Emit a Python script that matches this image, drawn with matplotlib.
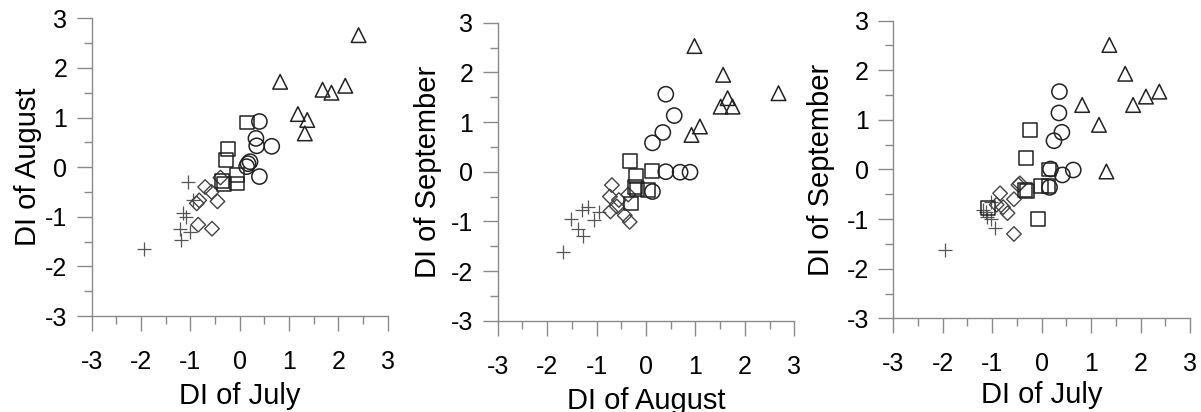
import numpy as np
import matplotlib
matplotlib.use("Agg")
import matplotlib.pyplot as plt
from matplotlib.ticker import MultipleLocator

plt.rcParams['font.family'] = ['Liberation Sans', 'DejaVu Sans']
plt.rcParams['axes.unicode_minus'] = False

# panel 1: DI of July (x) vs DI of August (y)
ja_tri_x = [2.41, 0.82, 1.68, 1.86, 2.14, 1.18, 1.37, 1.32]
ja_tri_y = [2.66, 1.72, 1.56, 1.50, 1.64, 1.07, 0.95, 0.68]
ja_cir_x = [0.40, 0.33, 0.345, 0.65, 0.21, 0.17, 0.14, 0.40]
ja_cir_y = [0.92, 0.58, 0.43, 0.42, 0.11, 0.07, 0.01, -0.19]
ja_sq_x = [0.15, -0.23, -0.28, -0.32, -0.36, -0.06, -0.05]
ja_sq_y = [0.90, 0.36, 0.15, -0.34, -0.28, -0.33, -0.15]
ja_dia_x = [-0.39, -0.70, -0.57, -0.45, -0.82, -0.87, -0.84, -0.56]
ja_dia_y = [-0.21, -0.40, -0.50, -0.69, -0.67, -0.73, -1.16, -1.24]
ja_plus_x = [-1.04, -0.94, -1.14, -1.09, -1.21, -1.01, -1.18, -1.94]
ja_plus_y = [-0.30, -0.66, -0.93, -1.01, -1.24, -1.30, -1.46, -1.64]

# panel 2: DI of August (x) vs DI of September (y)
as_tri_x = [0.98, 1.56, 2.68, 1.65, 1.51, 1.75, 1.09, 0.92]
as_tri_y = [2.53, 1.95, 1.58, 1.48, 1.31, 1.31, 0.91, 0.74]
as_cir_x = [0.40, 0.57, 0.34, 0.13, 0.40, 0.69, 0.89, 0.13]
as_cir_y = [1.56, 1.13, 0.79, 0.58, 0.00, -0.01, -0.01, -0.40]
as_sq_x = [-0.32, -0.20, 0.12, -0.22, -0.18, -0.30, 0.04]
as_sq_y = [0.22, -0.08, 0.02, -0.31, -0.35, -0.64, -0.36]
as_dia_x = [-0.69, -0.73, -0.55, -0.36, -0.72, -0.59, -0.43, -0.33]
as_dia_y = [-0.27, -0.50, -0.57, -0.46, -0.80, -0.70, -0.88, -1.01]
as_plus_x = [-1.18, -1.29, -0.95, -1.52, -1.05, -1.37, -1.27, -1.67]
as_plus_y = [-0.72, -0.78, -0.81, -0.95, -0.97, -1.15, -1.30, -1.62]

# panel 3: DI of July (x) vs DI of September (y)
js_tri_x = [1.37, 1.69, 2.38, 2.11, 1.85, 0.82, 1.16, 1.31]
js_tri_y = [2.51, 1.93, 1.57, 1.47, 1.30, 1.30, 0.90, -0.04]
js_cir_x = [0.36, 0.35, 0.41, 0.25, 0.18, 0.42, 0.64, 0.16]
js_cir_y = [1.57, 1.14, 0.75, 0.58, 0.01, -0.11, -0.01, -0.36]
js_sq_x = [-0.23, -0.31, 0.15, -0.02, -0.29, -0.33, 0.14, -0.07, -1.08]
js_sq_y = [0.79, 0.23, 0.00, -0.33, -0.44, -0.41, -0.34, -1.00, -0.78]
js_dia_x = [-0.44, -0.47, -0.84, -0.56, -0.91, -0.78, -0.69, -0.56]
js_dia_y = [-0.28, -0.31, -0.48, -0.60, -0.71, -0.76, -0.88, -1.30]
js_plus_x = [-1.18, -1.12, -1.10, -1.03, -0.95, -1.03, -1.96]
js_plus_y = [-0.81, -0.86, -0.95, -1.00, -1.17, -0.65, -1.63]

panels = [
    ("DI of July", "DI of August",
     (ja_tri_x, ja_tri_y), (ja_cir_x, ja_cir_y), (ja_sq_x, ja_sq_y),
     (ja_dia_x, ja_dia_y), (ja_plus_x, ja_plus_y)),
    ("DI of August", "DI of September",
     (as_tri_x, as_tri_y), (as_cir_x, as_cir_y), (as_sq_x, as_sq_y),
     (as_dia_x, as_dia_y), (as_plus_x, as_plus_y)),
    ("DI of July", "DI of September",
     (js_tri_x, js_tri_y), (js_cir_x, js_cir_y), (js_sq_x, js_sq_y),
     (js_dia_x, js_dia_y), (js_plus_x, js_plus_y)),
]

# axes boxes in figure fraction [left, bottom, width, height]
boxes = [
    [0.0763, 0.2330, 0.2465, 0.7226],
    [0.4144, 0.2216, 0.2470, 0.7233],
    [0.7438, 0.2274, 0.2470, 0.7224],
]
ylab_x = [-0.166, -0.189, -0.197]
xlab_y = [-0.222, -0.222, -0.210]
ticks = [-3, -2, -1, 0, 1, 2, 3]
tick_labels = [str(t) for t in ticks]

axis_gray = '#8a8a8a'

fig = plt.figure(figsize=(12.01, 4.12), dpi=100)

for i, (xl, yl, tri, cir, sq, dia, plus) in enumerate(panels):
    ax = fig.add_axes(boxes[i])
    ax.scatter(plus[0], plus[1], marker='+', s=110, color='#555555', linewidths=0.9)
    ax.scatter(dia[0], dia[1], marker='D', s=55, facecolors='none', edgecolors='#444444', linewidths=1.0)
    ax.scatter(sq[0], sq[1], marker='s', s=100, facecolors='none', edgecolors='#222222', linewidths=1.1)
    ax.scatter(cir[0], cir[1], marker='o', s=120, facecolors='none', edgecolors='#222222', linewidths=1.1)
    ax.scatter(tri[0], tri[1], marker='^', s=110, facecolors='none', edgecolors='#222222', linewidths=1.1)

    ax.set_xlim(-3, 3)
    ax.set_ylim(-3, 3)
    ax.spines['top'].set_visible(False)
    ax.spines['right'].set_visible(False)
    for sp in ('left', 'bottom'):
        ax.spines[sp].set_color(axis_gray)
        ax.spines[sp].set_linewidth(1.0)
    ax.set_xticks(ticks)
    ax.set_yticks(ticks)
    ax.xaxis.set_minor_locator(MultipleLocator(0.5))
    ax.yaxis.set_minor_locator(MultipleLocator(0.5))
    ax.set_xticklabels(tick_labels, fontsize=18)
    ax.set_yticklabels(tick_labels, fontsize=18)
    ax.tick_params(which='major', length=11, width=1.0, color=axis_gray)
    ax.tick_params(which='minor', length=5.5, width=1.0, color=axis_gray)
    ax.tick_params(axis='x', which='major', pad=13.5)
    ax.tick_params(axis='y', which='major', pad=6.5)

    ax.set_xlabel(xl, fontsize=21)
    ax.set_ylabel(yl, fontsize=21)
    ax.xaxis.set_label_coords(0.5, xlab_y[i])
    ax.yaxis.set_label_coords(ylab_x[i], 0.5)

fig.savefig("out.png", dpi=100)
